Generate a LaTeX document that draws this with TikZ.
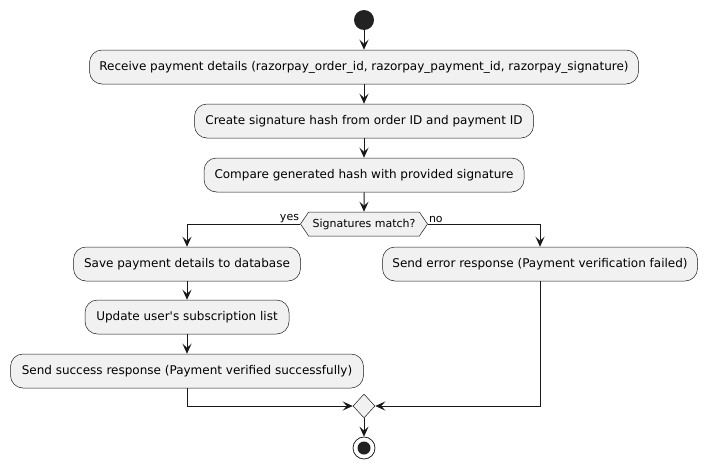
\documentclass[tikz,border=0pt]{standalone}
\usepackage{fontspec}
\setmainfont{DejaVu Sans}
\usetikzlibrary{arrows.meta,shapes.geometric,shapes.symbols}
\definecolor{boxfill}{HTML}{F1F1F1}
\definecolor{dark}{HTML}{181818}
\definecolor{blob}{HTML}{222222}
\tikzset{
  act/.style={draw=dark, fill=boxfill, rounded corners=12.5pt, minimum height=34pt,
    inner sep=0pt, line width=0.5pt, font=\fontsize{12}{14}\selectfont},
  choice/.style={draw=dark, fill=boxfill, signal, signal to=west and east,
    signal pointer angle=112, minimum height=24pt, inner sep=0pt, line width=0.5pt,
    font=\fontsize{11}{13}\selectfont},
  merge/.style={draw=dark, fill=boxfill, diamond, minimum width=22pt,
    minimum height=24pt, inner sep=0pt, line width=0.5pt},
  flow/.style={draw=dark, line width=1pt, -{Stealth[length=10pt,width=9pt,inset=4pt]}},
  guard/.style={font=\fontsize{11}{13}\selectfont, inner sep=1pt}
}
\begin{document}
\begin{tikzpicture}[x=1pt,y=-1pt]
\useasboundingbox (0,0) rectangle (708,469);
\node[circle, fill=blob, minimum size=20pt, inner sep=0pt] (start) at (364,20) {};
\node[act, minimum width=549pt] (recv) at (364,67)
  {Receive payment details (razorpay\_order\_id, razorpay\_payment\_id, razorpay\_signature)};
\node[act, minimum width=339pt] (hash) at (364,121) {Create signature hash from order ID and payment ID};
\node[act, minimum width=320pt] (cmp) at (364,175) {Compare generated hash with provided signature};
\node[choice, minimum width=127pt] (dec) at (364,224) {Signatures match?};
\node[act, minimum width=227pt] (save) at (187,264) {Save payment details to database};
\node[act, minimum width=315pt] (err) at (540,264) {Send error response (Payment verification failed)};
\node[act, minimum width=204pt] (upd) at (187,317) {Update user\textquotesingle s subscription list};
\node[act, minimum width=353pt] (ok) at (187,371) {Send success response (Payment verified successfully)};
\node[merge] (join) at (364,406) {};
\node[circle, draw=dark, fill=white, line width=0.75pt, minimum size=22pt, inner sep=0pt,
  path picture={\fill[blob] (path picture bounding box.center) circle (6.5pt);}] (stop) at (364,448) {};
\draw[flow] (start) -- (recv);
\draw[flow] (recv) -- (hash);
\draw[flow] (hash) -- (cmp);
\draw[flow] (cmp) -- (dec);
\draw[flow] (dec.west) -| (save.north);
\draw[flow] (dec.east) -| (err.north);
\node[guard, anchor=south east] (yes) at (dec.west) {yes};
\node[guard, anchor=south west] (no) at (dec.east) {no};
\draw[flow] (save) -- (upd);
\draw[flow] (upd) -- (ok);
\draw[flow] (ok.south) |- (join.west);
\draw[flow] (err.south) |- (join.east);
\draw[flow] (join) -- (stop);
\end{tikzpicture}
\end{document}
